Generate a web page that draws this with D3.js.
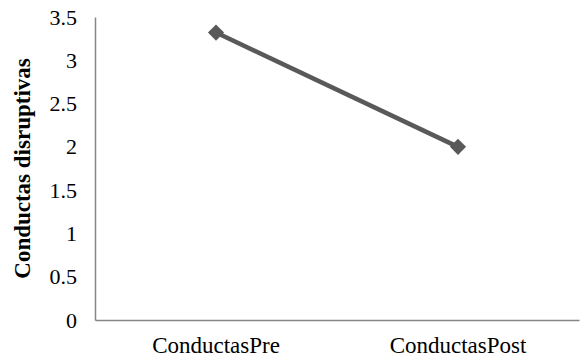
<!DOCTYPE html>
<html><head><meta charset="utf-8">
<script src="https://cdn.jsdelivr.net/npm/d3@7"></script>
<style>body{margin:0;background:#fff}svg{display:block}
text{font-family:"Liberation Serif","Times New Roman",serif !important}</style>
</head><body>
<script>
const categories = ["ConductasPre", "ConductasPost"];
const values = [3.32, 2.0];
const yTicks = [0, 0.5, 1, 1.5, 2, 2.5, 3, 3.5];
const yTitle = "Conductas disruptivas";

const W = 581, H = 362;
const m = {left: 95, right: 2, top: 17, bottom: 42};
const svg = d3.select("body").append("svg").attr("width", W).attr("height", H);

const x = d3.scaleBand().domain(categories).range([m.left, W - m.right]);
const y = d3.scaleLinear().domain([0, 3.5]).range([H - m.bottom, m.top]);

// y axis
const ya = svg.append("g").attr("transform", `translate(${m.left},0)`)
  .call(d3.axisLeft(y).tickValues(yTicks).tickSize(0).tickPadding(18).tickFormat(d3.format("")));
ya.select(".domain").attr("stroke", "#868686").attr("stroke-width", 1.5);
ya.selectAll("text").style("font-size", "22px").attr("fill", "#000");

// x axis
const xa = svg.append("g").attr("transform", `translate(0,${H - m.bottom})`)
  .call(d3.axisBottom(x).tickSize(0).tickPadding(17));
xa.select(".domain").attr("stroke", "#868686").attr("stroke-width", 1.5);
xa.selectAll("text").style("font-size", "23px").attr("fill", "#000");

// y title
svg.append("text")
  .attr("transform", `translate(30,${(m.top + H - m.bottom) / 2}) rotate(-90)`)
  .attr("text-anchor", "middle")
  .style("font-weight", "bold").style("font-size", "23px")
  .text(yTitle);

const pts = categories.map((c, i) => [x(c) + x.bandwidth() / 2, y(values[i])]);
svg.append("path").datum(pts)
  .attr("d", d3.line())
  .attr("fill", "none").attr("stroke", "#595959").attr("stroke-width", 4.5);

svg.selectAll(".mk").data(pts).enter().append("path")
  .attr("d", d3.symbol(d3.symbolSquare, 130)())
  .attr("transform", d => `translate(${d[0]},${d[1]}) rotate(45)`)
  .attr("fill", "#595959");
</script>
</body></html>
